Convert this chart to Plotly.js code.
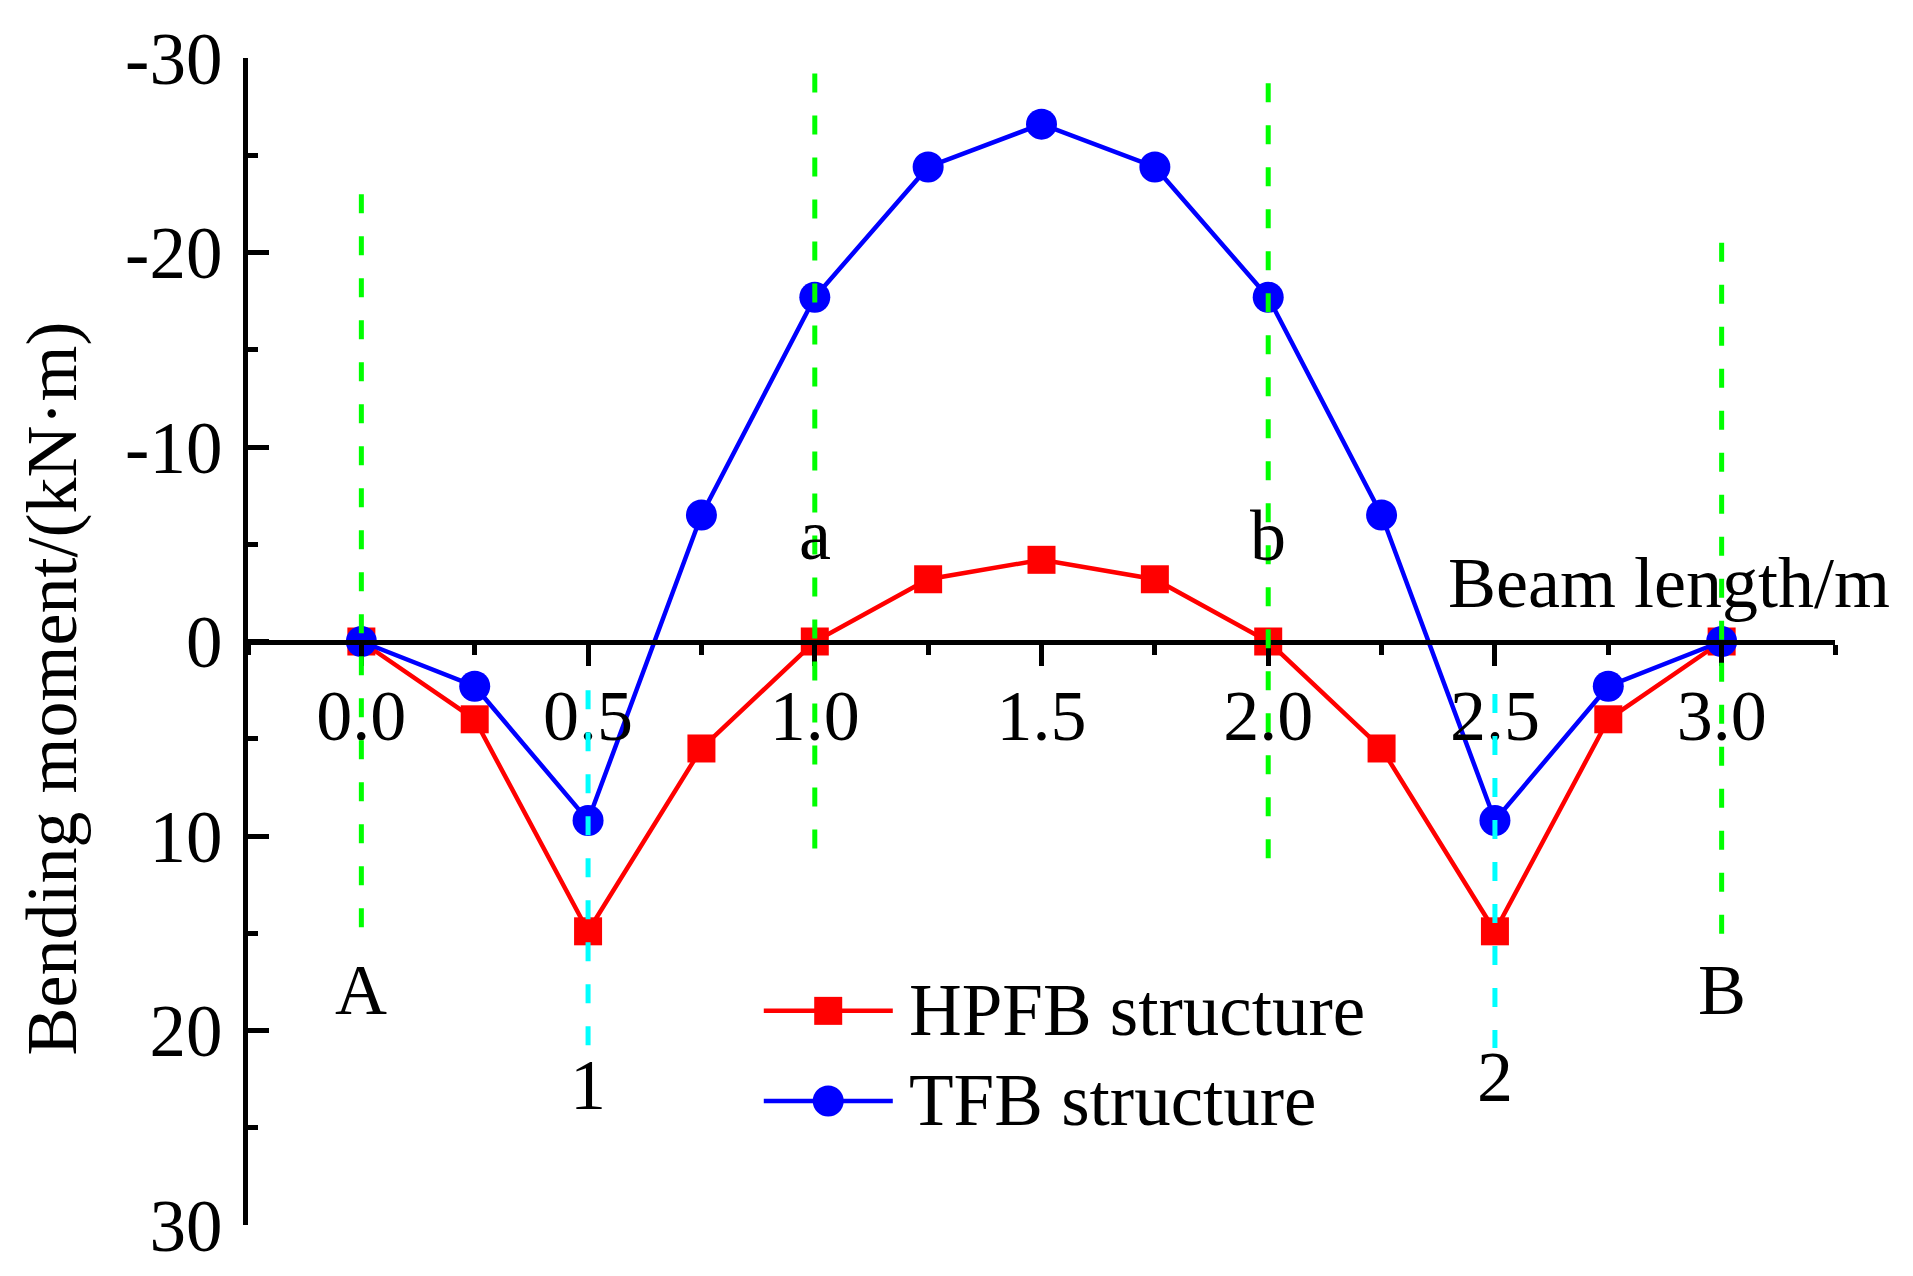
<!DOCTYPE html>
<html><head><meta charset="utf-8">
<script src="https://cdn.plot.ly/plotly-3.0.1.min.js"></script>
<style>html,body{margin:0;padding:0;background:#fff;}#chart{width:1913px;height:1276px;}</style>
</head><body><div id="chart"></div>
<script>
// ---- data ----
const beamX = [0, 0.25, 0.5, 0.75, 1.0, 1.25, 1.5, 1.75, 2.0, 2.25, 2.5, 2.75, 3.0];
const hpfbMoment = [0, 4.0, 14.9, 5.5, 0, -3.2, -4.2, -3.2, 0, 5.5, 14.9, 4.0, 0];
const tfbMoment = [0, 2.3, 9.2, -6.5, -17.7, -24.4, -26.6, -24.4, -17.7, -6.5, 9.2, 2.3, 0];
const seriesNames = ['HPFB structure', 'TFB structure'];
const xTickVals = [0, 0.5, 1.0, 1.5, 2.0, 2.5, 3.0];
const xTickText = ['0.0', '0.5', '1.0', '1.5', '2.0', '2.5', '3.0'];
const yTickVals = [-30, -20, -10, 0, 10, 20, 30];
const yTickText = ['-30', '-20', '-10', '0', '10', '20', '30'];
const sectionX = [0, 1, 2, 3];
const sectionTop = [-23, -29.2, -28.7, -20.5];
const sectionBottom = [14.7, 10.7, 11.2, 15.2];
const loadX = [0.5, 2.5];
const loadTop = [2.5, 2.7];
const loadBottom = [20.8, 20.9];
const pointLabels = ['A', 'a', 'b', 'B', '1', '2'];
const pointLabelX = [0, 1, 2, 3, 0.5, 2.5];
const pointLabelY = [17.9, -5.5, -5.4, 17.9, 22.8, 22.4];
const xTitle = 'Beam length/m';
const yTitle = 'Bending moment/(kN\u00b7m)';

// ---- style ----
const FONT = 'Liberation Serif, Times New Roman, serif';
const RED = 'rgb(255,0,0)', BLUE = 'rgb(0,0,255)';
const GREEN = 'rgb(0,255,0)', CYAN = 'rgb(0,255,255)';

const traces = [
  {x: beamX, y: hpfbMoment, name: seriesNames[0], type: 'scatter', mode: 'lines+markers',
   line: {color: RED, width: 4.5}, marker: {symbol: 'square', size: 28, color: RED, opacity: 1}, cliponaxis: false},
  {x: beamX, y: tfbMoment, name: seriesNames[1], type: 'scatter', mode: 'lines+markers',
   line: {color: BLUE, width: 4.5}, marker: {symbol: 'circle', size: 31, color: BLUE, opacity: 1}, cliponaxis: false}
];

// manual legend samples on an overlay axis (0..1 of plot area)
const legLineX = [0.325, 0.4063];
const legMarkX = [0.3656];
const legRowY = [0.1835, 0.1063];
const legSymbols = ['square', 'circle'];
const legSizes = [28, 31];
const legColors = [RED, BLUE];
for (let i = 0; i < 2; i++) {
  traces.push({x: legLineX, y: [legRowY[i], legRowY[i]], xaxis: 'x2', yaxis: 'y2',
    type: 'scatter', mode: 'lines', showlegend: false, hoverinfo: 'skip',
    line: {color: legColors[i], width: 4.5}});
  traces.push({x: legMarkX, y: [legRowY[i]], xaxis: 'x2', yaxis: 'y2',
    type: 'scatter', mode: 'markers', showlegend: false, hoverinfo: 'skip',
    marker: {symbol: legSymbols[i], size: legSizes[i], color: legColors[i], opacity: 1}});
}

const shapes = [];
sectionX.forEach((x, i) => shapes.push({type: 'line', xref: 'x', yref: 'y', x0: x, x1: x,
  y0: sectionTop[i], y1: sectionBottom[i], layer: 'above', line: {color: GREEN, width: 5, dash: '19px,23px'}}));
loadX.forEach((x, i) => shapes.push({type: 'line', xref: 'x', yref: 'y', x0: x, x1: x,
  y0: loadTop[i], y1: loadBottom[i], layer: 'above', line: {color: CYAN, width: 5, dash: '19px,23px'}}));

const annotations = [];
pointLabels.forEach((t, i) => annotations.push({x: pointLabelX[i], y: pointLabelY[i], xref: 'x', yref: 'y',
  text: t, showarrow: false, xanchor: 'center', yanchor: 'middle', font: {family: FONT, size: 72, color: '#000'}}));
annotations.push({x: 2.884, y: -3.0, xref: 'x', yref: 'y', text: xTitle, showarrow: false,
  xanchor: 'center', yanchor: 'middle', font: {family: FONT, size: 72, color: '#000'}});
annotations.push({x: -0.1238, y: 0.4593, xref: 'paper', yref: 'paper', text: yTitle, showarrow: false,
  textangle: -90, xanchor: 'center', yanchor: 'middle', font: {family: FONT, size: 72, color: '#000'}});
seriesNames.forEach((n, i) => annotations.push({x: 0.415, y: legRowY[i], xref: 'x2', yref: 'y2', text: n,
  showarrow: false, xanchor: 'left', yanchor: 'middle', font: {family: FONT, size: 73, color: '#000'}}));

const layout = {
  width: 1913, height: 1276,
  margin: {l: 248, r: 78, t: 58, b: 51, pad: 0},
  paper_bgcolor: '#fff', plot_bgcolor: '#fff',
  showlegend: false,
  font: {family: FONT, size: 72, color: '#000'},
  xaxis: {
    range: [-0.25, 3.25], anchor: 'free', position: 0.5, side: 'bottom',
    showline: true, linewidth: 5, linecolor: '#000', showgrid: false, zeroline: false,
    tickmode: 'array', tickvals: xTickVals, ticktext: xTickText,
    ticks: 'outside', ticklen: 21, tickwidth: 5, tickcolor: '#000',
    minor: {dtick: 0.25, tick0: 0, ticks: 'outside', ticklen: 10, tickwidth: 5, tickcolor: '#000', showgrid: false},
    tickfont: {family: FONT, size: 72, color: '#000'}, ticklabelstandoff: -12, automargin: false
  },
  yaxis: {
    range: [30, -30], showline: true, linewidth: 5, linecolor: '#000', showgrid: false, zeroline: false,
    tickmode: 'array', tickvals: yTickVals, ticktext: yTickText,
    ticks: 'inside', ticklen: 21, tickwidth: 5, tickcolor: '#000',
    minor: {dtick: 5, tick0: 0, ticks: 'inside', ticklen: 10, tickwidth: 5, tickcolor: '#000', showgrid: false},
    tickfont: {family: FONT, size: 73, color: '#000'}, ticklabelstandoff: 6, automargin: false
  },
  xaxis2: {range: [0, 1], overlaying: 'x', visible: false, anchor: 'y2'},
  yaxis2: {range: [0, 1], overlaying: 'y', visible: false, anchor: 'x2'},
  shapes: shapes,
  annotations: annotations
};

Plotly.newPlot('chart', traces, layout, {staticPlot: true, displayModeBar: false});
</script>
</body></html>
